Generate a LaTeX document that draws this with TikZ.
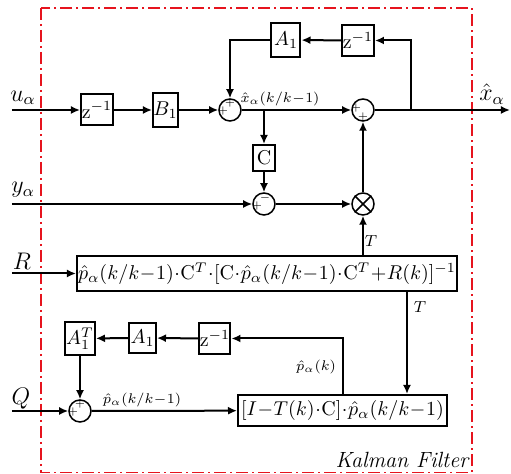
\documentclass[tikz,border=0pt]{standalone}
\usepackage{amsmath}
\usepackage{tikz}
\usetikzlibrary{arrows.meta, positioning, calc}
\definecolor{framered}{RGB}{230, 20, 30}
\tikzstyle{block} = [draw, line width=1pt, fill=white, inner sep=0pt]
\tikzstyle{sumnode} = [draw, circle, line width=0.75pt, minimum size=11pt, inner sep=0pt, fill=white]
\tikzstyle{flow} = [-{Latex[length=4.5pt, width=4pt]}, line width=1pt]
\tikzstyle{sgn} = [font=\tiny, inner sep=0pt]
\tikzstyle{lbl} = [font=\scriptsize, inner sep=0pt]
\tikzstyle{iolbl} = [font=\large, inner sep=0pt]
\medmuskip=0.5mu

\begin{document}
\begin{tikzpicture}[x=0.5pt, y=-0.5pt]
    \useasboundingbox (0,0) rectangle (511,474);

    % Frame
    \draw[framered, line width=0.8pt, dash pattern=on 6pt off 2pt on 1pt off 2pt] (41,8) rectangle (472,472.5);
    \node[font=\itshape\fontsize{11}{13}\selectfont, inner sep=0pt] (kf) at (402,460) {Kalman Filter};

    % Inputs and output
    \coordinate (uin) at (12,110);
    \coordinate (yin) at (12,204);
    \coordinate (rin) at (12,273.5);
    \coordinate (qin) at (12,411);
    \coordinate (xout) at (510,110);
    \node[iolbl] (ulbl) at (23,98) {$u_\alpha$};
    \node[iolbl] (ylbl) at (23,190) {$y_\alpha$};
    \node[iolbl] (rlbl) at (22,261) {$R$};
    \node[iolbl] (qlbl) at (21,399) {$Q$};
    \node[iolbl] (xlbl) at (492,94) {$\hat{x}_\alpha$};

    % State estimate
    \node[block, minimum width=16pt, minimum height=15.5pt] (zu) at (97,110) {$\mathrm{z}^{-1}$};
    \node[block, minimum width=12.5pt, minimum height=17pt] (bone) at (165.5,110) {$B_1$};
    \node[sumnode] (sxa) at (230,110) {};
    \node[block, minimum width=14.5pt, minimum height=17pt] (aone) at (286,40) {$A_1$};
    \node[block, minimum width=16pt, minimum height=15.5pt] (zx) at (358,40.5) {$\mathrm{z}^{-1}$};
    \node[sumnode] (sxb) at (363,110) {};
    \node[block, minimum width=11pt, minimum height=13pt] (cbox) at (264,158) {$\mathrm{C}$};
    \node[sumnode] (sy) at (264,204) {};
    \node[sumnode] (mul) at (363,204) {};
    \draw[line width=0.75pt] (mul.north west) -- (mul.south east) (mul.north east) -- (mul.south west);
    \coordinate (brx) at (411,110);
    \coordinate (brc) at (264,110);

    % Gain and covariance
    \node[block, minimum width=190pt, minimum height=17.5pt] (gain) at (267,273.5)
        {$\hat{p}_\alpha(k/k-1)\cdot\mathrm{C}^T\cdot[\mathrm{C}\cdot\hat{p}_\alpha(k/k-1)\cdot\mathrm{C}^T+R(k)]^{-1}$};
    \node[block, minimum width=104.5pt, minimum height=15.5pt] (cov) at (342.5,410.5)
        {$[I-T(k)\cdot\mathrm{C}]\cdot\hat{p}_\alpha(k/k-1)$};
    \node[sumnode] (sp) at (80,411) {};
    \node[block, minimum width=15.5pt, minimum height=15.5pt] (zp) at (215,338.5) {$\mathrm{z}^{-1}$};
    \node[block, minimum width=13.5pt, minimum height=15pt] (ap) at (142.5,338) {$A_1$};
    \node[block, minimum width=15pt, minimum height=16.5pt] (apt) at (80,338.5) {$A_1^T$};
    \coordinate (kx) at (407,300);
    \coordinate (px) at (343,380);

    % Signs
    \node[sgn] (sxa1) at (230,103) {$+$};
    \node[sgn] (sxa2) at (223,111) {$+$};
    \node[sgn] (sxb1) at (356,108) {$+$};
    \node[sgn] (sxb2) at (363,117) {$+$};
    \node[sgn] (sy1) at (257,206) {$+$};
    \node[sgn] (sy2) at (265,198) {$-$};
    \node[sgn] (sp1) at (80,404) {$+$};
    \node[sgn] (sp2) at (73,412) {$+$};

    % Labels
    \node[lbl] (xhl) at (280,99) {$\hat{x}_\alpha(k/k-1)$};
    \node[lbl] (phl) at (142,400) {$\hat{p}_\alpha(k/k-1)$};
    \node[lbl] (pkl) at (316,367) {$\hat{p}_\alpha(k)$};
    \node[lbl, font=\footnotesize] (t1) at (371,241) {$T$};
    \node[lbl, font=\footnotesize] (t2) at (420,307) {$T$};

    % Connections
    \draw[flow] (uin) -- (zu);
    \draw[flow] (zu) -- (bone);
    \draw[flow] (bone) -- (sxa);
    \draw[flow] (sxa) -- (sxb);
    \draw[flow] (sxb) -- (xout);
    \draw[flow] (brx) |- (zx.east);
    \draw[flow] (zx) -- (aone);
    \draw[flow] (aone.west) -| (sxa.north);
    \draw[flow] (brc) -- (cbox);
    \draw[flow] (cbox) -- (sy);
    \draw[flow] (yin) -- (sy);
    \draw[flow] (sy) -- (mul);
    \draw[flow] (mul) -- (sxb);
    \draw[flow] (gain.north -| mul) -- (mul);
    \draw[flow] (rin) -- (gain);
    \draw[flow] (gain.south -| kx) -- (cov.north -| kx);
    \draw[flow] (qin) -- (sp);
    \draw[flow] (sp) -- (cov);
    \draw[flow] (cov.north -| px) |- (zp.east);
    \draw[flow] (zp) -- (ap);
    \draw[flow] (ap) -- (apt);
    \draw[flow] (apt) -- (sp);
\end{tikzpicture}
\end{document}
